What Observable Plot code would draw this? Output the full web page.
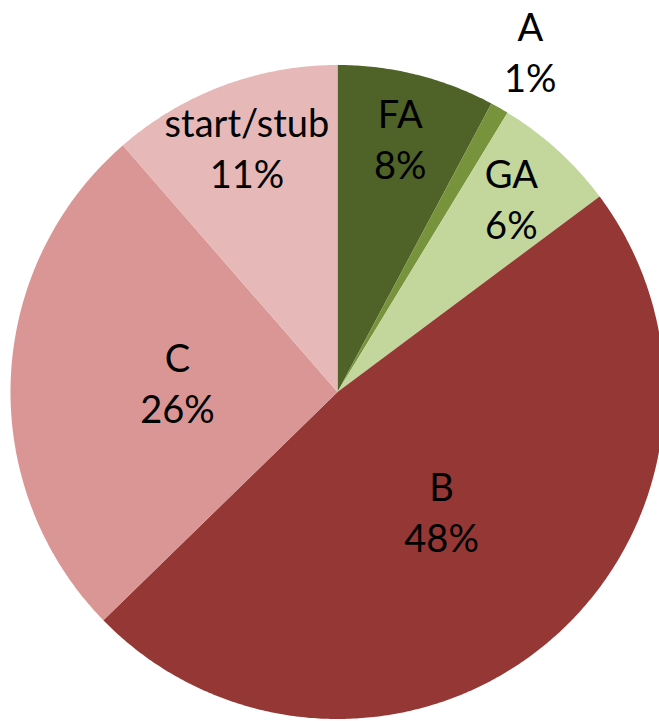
<!DOCTYPE html>
<html>
<head>
<meta charset="utf-8">
<script src="https://cdn.jsdelivr.net/npm/d3@7"></script>
<script src="https://cdn.jsdelivr.net/npm/@observablehq/plot@0.6"></script>
<style>
  html, body { margin: 0; padding: 0; background: #fff; overflow: hidden; }
  #chart { width: 659px; height: 721px; overflow: hidden; }
</style>
</head>
<body>
<div id="chart"></div>
<script>
const categories = ["FA", "A", "GA", "B", "C", "start/stub"];
const shares = [7.8, 0.9, 6.1, 47.9, 25.9, 11.4];
const colors = ["#4F6228", "#77933C", "#C3D69B", "#953735", "#D99694", "#E6B9B8"];

const rows = categories.map((name, i) => ({name, value: shares[i]}));
const arcs = d3.pie().sort(null).value(d => d.value)(rows);

// polygon outline of each wedge (unit circle, y up, angle clockwise from 12 o'clock)
const wedgePoints = [];
for (const a of arcs) {
  const n = Math.max(2, Math.ceil((a.endAngle - a.startAngle) / (Math.PI / 360)));
  wedgePoints.push({name: a.data.name, x: 0, y: 0});
  for (let k = 0; k <= n; k++) {
    const t = a.startAngle + (a.endAngle - a.startAngle) * k / n;
    wedgePoints.push({name: a.data.name, x: Math.sin(t), y: Math.cos(t)});
  }
}

const labelRadius = v => v < 2 ? 1.19 : v < 20 ? 0.79 : 0.49;
const labels = arcs.map(a => {
  const mid = (a.startAngle + a.endAngle) / 2;
  const r = labelRadius(a.data.value);
  return {
    name: a.data.name,
    x: r * Math.sin(mid),
    y: r * Math.cos(mid),
    text: `${a.data.name}\n${Math.round(a.data.value)}%`
  };
});

const cx = 337, cy = 391.5, R = 327;
const chart = Plot.plot({
  width: 659,
  height: 721,
  margin: 0,
  style: {background: "white", overflow: "hidden"},
  x: {domain: [-1, 1], range: [cx - R, cx + R], axis: null},
  y: {domain: [-1, 1], range: [cy + R, cy - R], axis: null},
  color: {domain: categories, range: colors},
  marks: [
    Plot.line(wedgePoints, {x: "x", y: "y", z: "name", fill: "name", stroke: "none", curve: "linear-closed"}),
    Plot.text(labels, {x: "x", y: "y", text: "text", fill: "black", fontSize: 38, fontFamily: "Lato", lineHeight: 1.34, dy: -4})
  ]
});
document.getElementById("chart").append(chart);
</script>
</body>
</html>
